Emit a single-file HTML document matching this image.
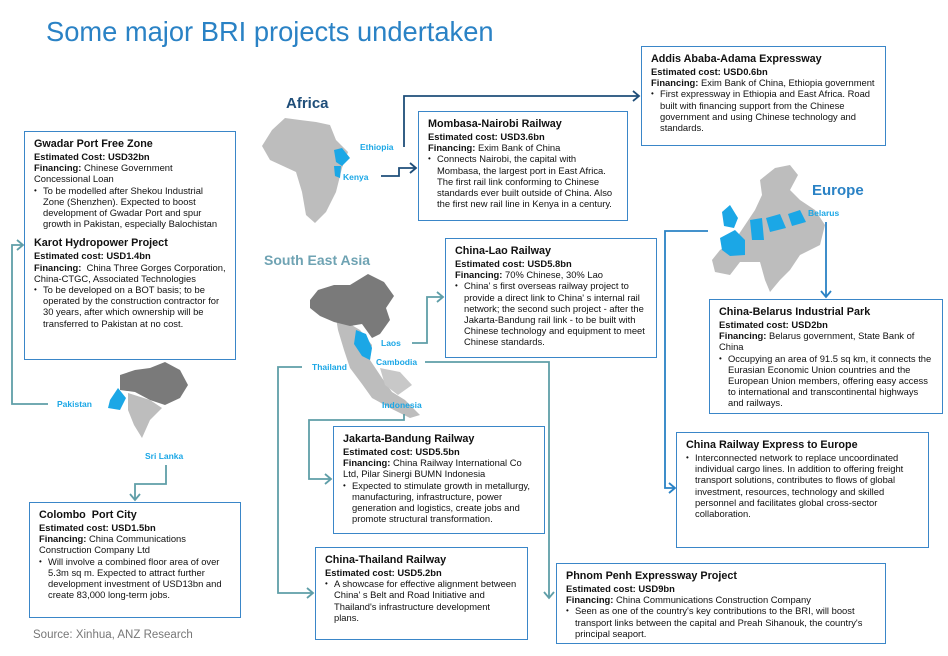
<!DOCTYPE html>
<html><head><meta charset="utf-8"><style>
body{margin:0;width:948px;height:656px;background:#fff;position:relative;overflow:hidden;font-family:"Liberation Sans",Arial,sans-serif;color:#111}
.t{position:absolute;left:46px;top:16px;font-size:27.3px;color:#2a82c5}
.b{position:absolute;border:1.5px solid #3a86c8;box-sizing:border-box;font-size:9.4px;line-height:11.2px;padding:6px 4px 0 9px;white-space:nowrap;overflow:hidden}
.b h{display:block;font-weight:bold;font-size:10.8px;line-height:13px}
.b b{font-weight:bold}
.li{padding-left:9px;position:relative}
.li:before{content:"•";position:absolute;left:0;font-size:8px}
.lab{position:absolute;font-weight:bold;font-size:8.5px;color:#1ba7e6}
svg{position:absolute;left:0;top:0}
</style></head><body>
<div class="t">Some major BRI projects undertaken</div>
<svg width="948" height="656">
<polygon points="272,130 285,118 300,120 316,122 330,125 336,140 348,152 342,168 336,192 326,212 315,223 306,215 302,192 296,172 283,166 270,160 262,146" fill="#bdbdbd"/>
<polygon points="334,150 342,148 350,158 342,166 336,162" fill="#1ba7e6"/>
<polygon points="334,166 341,166 340,178 335,176" fill="#1ba7e6"/>
<polygon points="336,318 350,324 360,330 372,345 370,360 382,378 392,392 405,400 420,415 410,418 390,408 372,398 362,384 350,368 344,350 338,330" fill="#bdbdbd"/>
<polygon points="380,368 400,372 412,385 398,395 385,385" fill="#c8c8c8"/>
<polygon points="310,300 318,290 334,285 350,285 368,274 384,282 394,296 386,308 390,320 380,334 372,338 362,324 350,326 334,322 320,316 310,308" fill="#7a7a7a"/>
<polygon points="356,330 366,334 372,348 370,360 362,356 354,344" fill="#1ba7e6"/>
<polygon points="120,375 135,370 150,368 165,362 180,370 188,385 180,398 165,405 150,400 135,392 120,390" fill="#7a7a7a"/>
<polygon points="128,393 150,400 162,408 150,420 142,438 134,425 128,410" fill="#bdbdbd"/>
<polygon points="110,400 118,388 126,398 120,410 108,408" fill="#1ba7e6"/>
<polygon points="760,180 775,168 790,165 798,175 790,190 800,200 815,210 825,225 820,245 800,255 790,270 780,280 770,292 765,280 760,262 740,262 730,275 715,272 712,260 720,250 735,240 745,225 755,210 762,195" fill="#bdbdbd"/>
<polygon points="722,212 730,205 738,218 734,228 724,226" fill="#1ba7e6"/>
<polygon points="720,238 735,230 745,240 745,255 730,256 722,250" fill="#1ba7e6"/>
<polygon points="750,220 762,218 764,240 752,240" fill="#1ba7e6"/>
<polygon points="766,218 780,214 786,228 770,232" fill="#1ba7e6"/>
<polygon points="788,214 800,210 806,222 792,226" fill="#1ba7e6"/>
<g fill="none" stroke-width="1.8">
<g stroke="#5f9ea8">
<polyline points="48,404 12,404 12,245 23,245"/><polyline points="17,240 23,245 17,250"/>
<polyline points="166,465 166,484 135,484 135,500"/><polyline points="130,494 135,500 140,494"/>
<polyline points="412,343 427,343 427,297 443,297"/><polyline points="437,292 443,297 437,302"/>
<polyline points="425,362 549,362 549,598"/><polyline points="544,592 549,598 554,592"/>
<polyline points="302,367 278,367 278,593 313,593"/><polyline points="307,588 313,593 307,598"/>
<polyline points="404,414 404,420 309,420 309,479 331,479"/><polyline points="325,474 331,479 325,484"/>
</g>
<g stroke="#1f4e79">
<polyline points="404,147 404,96 639,96"/><polyline points="633,91 639,96 633,101"/>
<polyline points="381,176 399,176 399,168 416,168"/><polyline points="410,163 416,168 410,173"/>
</g>
<g stroke="#2a82c5">
<polyline points="708,231 665,231 665,488 675,488"/><polyline points="669,483 675,488 669,493"/>
<polyline points="826,222 826,297"/><polyline points="821,291 826,297 831,291"/>
</g>
</g>
</svg>
<div style="position:absolute;left:286px;top:95px;font-weight:bold;font-size:15px;color:#1f4e79">Africa</div>
<div style="position:absolute;left:264px;top:252px;font-weight:bold;font-size:14px;color:#6fa3b3">South East Asia</div>
<div style="position:absolute;left:812px;top:182px;font-weight:bold;font-size:15px;color:#2a82c5">Europe</div>
<div class="lab" style="left:360px;top:142px">Ethiopia</div>
<div class="lab" style="left:343px;top:172px">Kenya</div>
<div class="lab" style="left:808px;top:208px">Belarus</div>
<div class="lab" style="left:57px;top:399px">Pakistan</div>
<div class="lab" style="left:145px;top:451px">Sri Lanka</div>
<div class="lab" style="left:381px;top:338px">Laos</div>
<div class="lab" style="left:376px;top:357px">Cambodia</div>
<div class="lab" style="left:312px;top:362px">Thailand</div>
<div class="lab" style="left:382px;top:400px">Indonesia</div>

<div class="b" style="left:24px;top:131px;width:212px;height:229px"><h>Gwadar Port Free Zone</h><b>Estimated Cost: USD32bn</b><br><b>Financing:</b> Chinese Government<br>Concessional Loan<div class="li">To be modelled after Shekou Industrial<br>Zone (Shenzhen). Expected to boost<br>development of Gwadar Port and spur<br>growth in Pakistan, especially Balochistan</div><div style="height:8px"></div><h>Karot Hydropower Project</h><b>Estimated cost: USD1.4bn</b><br><b>Financing:</b> &nbsp;China Three Gorges Corporation,<br>China-CTGC, Associated Technologies<div class="li">To be developed on a BOT basis; to be<br>operated by the construction contractor for<br>30 years, after which ownership will be<br>transferred to Pakistan at no cost.</div></div>

<div class="b" style="left:641px;top:46px;width:245px;height:100px"><h>Addis Ababa-Adama Expressway</h><b>Estimated cost: USD0.6bn</b><br><b>Financing:</b> Exim Bank of China, Ethiopia government<div class="li">First expressway in Ethiopia and East Africa. Road<br>built with financing support from the Chinese<br>government and using Chinese technology and<br>standards.</div></div>

<div class="b" style="left:418px;top:111px;width:210px;height:110px"><h>Mombasa-Nairobi Railway</h><b>Estimated cost: USD3.6bn</b><br><b>Financing:</b> Exim Bank of China<div class="li">Connects Nairobi, the capital with<br>Mombasa, the largest port in East Africa.<br>The first rail link conforming to Chinese<br>standards ever built outside of China. Also<br>the first new rail line in Kenya in a century.</div></div>

<div class="b" style="left:445px;top:238px;width:212px;height:120px"><h>China-Lao Railway</h><b>Estimated cost: USD5.8bn</b><br><b>Financing:</b> 70% Chinese, 30% Lao<div class="li">China' s first overseas railway project to<br>provide a direct link to China' s internal rail<br>network; the second such project - after the<br>Jakarta-Bandung rail link - to be built with<br>Chinese technology and equipment to meet<br>Chinese standards.</div></div>

<div class="b" style="left:709px;top:299px;width:234px;height:115px"><h>China-Belarus Industrial Park</h><b>Estimated cost: USD2bn</b><br><b>Financing:</b> Belarus government, State Bank of<br>China<div class="li">Occupying an area of 91.5 sq km, it connects the<br>Eurasian Economic Union countries and the<br>European Union members, offering easy access<br>to international and transcontinental highways<br>and railways.</div></div>

<div class="b" style="left:676px;top:432px;width:253px;height:116px"><h>China Railway Express to Europe</h><div class="li">Interconnected network to replace uncoordinated<br>individual cargo lines. In addition to offering freight<br>transport solutions, contributes to flows of global<br>investment, resources, technology and skilled<br>personnel and facilitates global cross-sector<br>collaboration.</div></div>

<div class="b" style="left:333px;top:426px;width:212px;height:108px"><h>Jakarta-Bandung Railway</h><b>Estimated cost: USD5.5bn</b><br><b>Financing:</b> China Railway International Co<br>Ltd, Pilar Sinergi BUMN Indonesia<div class="li">Expected to stimulate growth in metallurgy,<br>manufacturing, infrastructure, power<br>generation and logistics, create jobs and<br>promote structural transformation.</div></div>

<div class="b" style="left:315px;top:547px;width:213px;height:93px"><h>China-Thailand Railway</h><b>Estimated cost: USD5.2bn</b><div class="li">A showcase for effective alignment between<br>China' s Belt and Road Initiative and<br>Thailand's infrastructure development<br>plans.</div></div>

<div class="b" style="left:556px;top:563px;width:330px;height:81px"><h>Phnom Penh Expressway Project</h><b>Estimated cost: USD9bn</b><br><b>Financing:</b> China Communications Construction Company<div class="li">Seen as one of the country's key contributions to the BRI, will boost<br>transport links between the capital and Preah Sihanouk, the country's<br>principal seaport.</div></div>

<div class="b" style="left:29px;top:502px;width:212px;height:116px"><h>Colombo &nbsp;Port City</h><b>Estimated cost: USD1.5bn</b><br><b>Financing:</b> China Communications<br>Construction Company Ltd<div class="li">Will involve a combined floor area of over<br>5.3m sq m. Expected to attract further<br>development investment of USD13bn and<br>create 83,000 long-term jobs.</div></div>

<div style="position:absolute;left:33px;top:629px;font-size:11.5px;color:#777">Source: Xinhua, ANZ Research</div>
</body></html>
